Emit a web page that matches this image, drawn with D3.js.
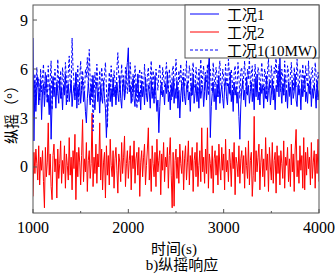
<!DOCTYPE html>
<html>
<head>
<meta charset="utf-8">
<script src="https://cdn.jsdelivr.net/npm/d3@7"></script>
<style>
  body { margin: 0; background: #fff; }
  svg { display: block; }
</style>
</head>
<body>
<svg id="chart" width="335" height="276"></svg>
<script>
// time axis: 1000 s to 4000 s, one sample every 10 s
let tStart = 1000;
let tStep = 10;

// 工况1 (solid blue)
let case1 = [
  7.9, 1.6, 5.2, 3.4, 4.9, 5.5, 3.8, 4.5, 5.3, 2.9, 4.6, 5.1, 3.7, 4.8, 5.6, 4.0, 4.4, 3.2, 5.0, 1.7,
  3.9, 5.4, 4.3, 4.9, 3.6, 5.2, 4.6, 3.9, 5.5, 4.2, 4.8, 3.5, 5.0, 4.4, 5.7, 3.8, 4.6, 5.1, 4.0, 4.7,
  5.3, 3.7, 4.5, 5.0, 4.1, 5.8, 3.6, 4.9, 4.3, 5.2, 3.9, 4.7, 5.4, 4.0, 4.6, 3.4, 2.7, 4.2, 5.1, 4.5,
  3.8, 5.0, 4.3, 5.6, 4.1, 3.5, 4.8, 5.2, 4.0, 4.6, 3.3, 5.0, 4.4, 3.9, 5.3, 4.2, 3.6, 1.8, 3.4, 4.7,
  5.1, 4.0, 4.8, 3.7, 5.5, 4.3, 4.9, 3.8, 5.2, 4.5, 4.0, 5.6, 4.2, 3.6, 4.9, 5.3, 4.1, 4.7, 5.8, 6.4,
  7.3, 4.6, 5.0, 3.9, 4.8, 5.4, 4.2, 3.7, 5.1, 4.5, 5.7, 4.0, 4.6, 3.5, 5.2, 4.3, 4.9, 3.8, 5.5, 4.4,
  4.0, 5.0, 4.6, 3.6, 5.3, 4.2, 4.8, 3.9, 5.6, 4.4, 3.4, 4.1, 2.1, 3.7, 4.9, 5.2, 4.3, 4.7, 3.8, 5.1,
  4.5, 5.8, 4.0, 4.6, 3.5, 5.0, 4.3, 5.4, 3.9, 4.8, 4.2, 5.3, 3.6, 4.7, 3.0, 4.4, 5.1, 4.0, 5.5, 4.3,
  3.8, 4.9, 5.2, 4.1, 4.6, 3.4, 5.0, 4.4, 5.7, 3.9, 4.5, 5.1, 4.0, 4.8, 3.6, 5.3, 4.2, 4.7, 5.0, 3.7,
  4.6, 5.5, 4.1, 4.9, 6.1, 7.0, 1.8, 3.7, 4.5, 5.2, 4.0, 4.8, 3.5, 5.1, 4.3, 5.6, 3.9, 4.6, 5.0, 4.2,
  3.6, 4.9, 5.4, 4.3, 3.8, 5.1, 4.5, 5.8, 4.0, 4.7, 3.4, 5.2, 4.4, 4.9, 3.9, 4.6, 3.1, 1.7, 3.8, 4.8,
  5.3, 4.1, 4.7, 3.7, 5.5, 4.4, 5.0, 3.9, 4.6, 5.2, 4.0, 4.8, 3.5, 5.4, 4.3, 5.7, 4.1, 4.6, 3.8, 5.1,
  4.5, 5.0, 3.6, 4.9, 4.2, 5.6, 4.0, 4.7, 5.2, 3.8, 4.4, 5.4, 4.1, 4.8, 3.5, 5.0, 4.6, 5.9, 4.3, 6.7,
  4.8, 3.9, 5.1, 4.4, 5.5, 4.0, 4.7, 3.6, 5.2, 4.5, 4.9, 3.8, 5.3, 4.2, 4.6, 5.7, 4.1, 3.7, 5.0, 4.4,
  4.8, 3.5, 5.2, 4.3, 4.9, 5.6, 4.0, 4.6, 3.9, 5.1, 4.5, 5.4, 3.7, 4.8, 4.2, 5.0, 4.6, 3.6, 5.3, 4.1,
  4.7
];

// 工况2 (solid red)
let case2 = [
  -1.8, 0.9, -0.4, 1.1, 0.2, -0.8, 1.3, -1.1, 0.6, -0.2, 1.0, -0.9, -2.5, 1.2, -0.6, 0.3, 2.7, -0.5, 0.8, -1.2,
  -2.0, 0.7, 1.4, -0.3, 0.5, -1.9, 1.1, -0.7, 0.2, 1.6, -1.0, 0.4, -0.4, 1.3, -1.3, 0.8, 0.1, -0.8, 1.8, -0.5,
  0.6, -1.4, 1.0, -0.1, 2.0, -2.0, 0.9, -0.6, 1.2, 0.3, -1.1, 0.7, 2.9, -0.9, 0.5, -0.3, 1.5, -1.5, 0.4, 1.0,
  -0.7, 0.2, 3.3, -1.2, 0.6, -0.4, 1.4, -1.0, 0.8, 0.0, 2.7, -0.8, 1.1, -1.4, 0.3, 0.9, -1.9, 1.3, -0.5, 0.7,
  -1.1, 1.7, 0.1, -0.6, 1.0, -1.3, 0.5, 1.2, -0.2, -1.6, 0.8, 0.3, -0.9, 1.5, -0.4, 0.6, 1.9, -1.2, 0.2, 1.0,
  -0.7, 0.4, 1.3, -1.4, 0.7, -0.1, 1.6, -1.0, 0.5, 0.9, -0.5, 1.2, -1.8, 0.3, 1.0, -0.6, 0.6, 1.4, -1.1, 0.1,
  1.1, 2.4, -0.8, 0.5, -1.5, 1.3, 0.2, -0.6, 0.9, -1.2, 1.7, -0.3, 0.4, 1.0, -1.7, 0.8, -0.2, 1.5, -0.9, 0.6,
  0.0, 1.2, -1.3, 0.7, 1.8, -0.5, -2.5, 0.9, -2.4, 0.4, 1.1, -0.7, 0.6, -1.0, 1.4, 0.2, -0.4, 1.0, -1.4, 0.5,
  1.3, -0.8, 0.3, 1.6, -1.1, 0.7, -0.2, 1.2, -1.5, 0.4, 0.9, -0.6, 1.5, -1.2, 0.1, 1.0, -0.9, 2.4, -0.3, 0.6,
  -1.0, 1.1, -0.4, 2.4, -1.3, 0.8, 0.2, -0.7, 1.3, -1.6, 0.5, 1.0, -0.5, 0.7, -1.1, 1.4, 0.0, -0.8, 1.2, -0.2,
  0.8, -1.4, 1.7, -0.3, 0.4, -0.9, 1.1, 0.3, -1.2, 0.9, -0.1, 1.5, -1.7, 0.6, 0.2, -0.6, 1.3, -1.0, 0.5, 1.0,
  -0.4, 0.7, -1.3, 1.2, 0.1, -0.7, 1.6, -1.1, 0.4, 0.9, -1.8, -0.5, 3.1, -0.9, 1.0, -0.3, 0.6, 1.4, -1.4, 0.3,
  1.1, -0.6, 0.5, -1.2, 1.8, -0.2, 0.8, -1.5, 1.2, 0.0, -0.8, 1.5, -1.0, 0.4, 0.9, -1.6, 1.3, -0.4, 0.7, -1.1,
  1.0, 0.2, -0.7, 1.6, -1.3, 0.6, 0.1, 1.2, -0.9, 0.5, -1.2, 1.4, -0.3, 0.8, -1.5, 1.1, 2.3, -0.6, 0.4, -1.0,
  1.3, -0.2, 0.7, -1.3, 1.8, -1.4, 0.9, -0.5, 1.2, -0.1, 0.6, -1.1, 1.5, -0.7, 0.3, 1.0, -1.3, 0.8, -0.4, 1.7,
  -0.9
];

// 工况1(10MW) (dashed blue)
let case1b = [
  5.0, 4.3, 5.7, 3.8, 6.1, 4.9, 5.4, 4.1, 6.0, 4.6, 5.5, 6.3, 4.4, 5.8, 5.1, 3.9, 6.2, 4.7, 5.3, 6.5,
  3.5, 5.6, 4.8, 6.0, 5.2, 4.4, 6.6, 5.0, 4.7, 5.9, 4.2, 6.1, 5.3, 4.6, 6.4, 5.5, 4.0, 5.8, 6.8, 5.1,
  4.5, 7.9, 6.0, 5.2, 4.3, 5.7, 4.9, 6.2, 3.8, 5.4, 6.5, 4.7, 5.9, 5.1, 4.4, 6.0, 5.5, 6.7, 5.0, 7.2,
  5.3, 4.1, 5.6, 2.2, 4.2, 5.8, 4.8, 6.3, 5.1, 4.5, 5.9, 4.0, 6.1, 5.4, 4.6, 5.7, 6.4, 4.9, 2.4, 4.3,
  5.8, 4.7, 6.2, 5.0, 4.4, 5.9, 5.3, 4.1, 6.0, 7.0, 5.5, 4.6, 5.1, 6.3, 4.8, 5.6, 4.2, 6.1, 5.4, 4.5,
  5.9, 4.9, 6.4, 5.2, 4.0, 5.7, 4.6, 6.2, 5.3, 3.6, 4.8, 5.5, 6.0, 4.3, 5.8, 5.1, 4.7, 6.3, 5.0, 4.4,
  5.6, 6.1, 4.8, 5.3, 6.5, 4.5, 5.9, 5.0, 4.2, 6.0, 5.4, 4.7, 5.8, 6.3, 5.1, 4.4, 6.1, 5.5, 4.9, 5.7,
  6.4, 5.0, 4.6, 6.0, 5.3, 4.1, 5.8, 6.2, 4.8, 5.5, 6.6, 5.1, 4.5, 5.9, 5.2, 6.3, 4.7, 5.6, 6.0, 4.9,
  5.4, 6.5, 4.6, 5.1, 6.2, 5.7, 4.3, 5.9, 6.4, 5.0, 4.8, 6.1, 5.5, 4.5, 6.0, 5.3, 6.6, 4.9, 5.6, 6.2,
  4.7, 5.8, 5.2, 6.3, 4.4, 5.7, 6.0, 5.0, 4.6, 6.4, 5.4, 4.9, 6.1, 5.6, 4.3, 5.9, 6.5, 5.1, 4.8, 6.0,
  5.5, 4.6, 6.3, 5.2, 4.9, 6.6, 5.7, 4.4, 6.0, 5.3, 4.1, 5.8, 6.2, 5.0, 4.7, 6.4, 5.5, 4.2, 5.9, 6.1,
  4.8, 5.6, 6.5, 5.1, 4.5, 6.0, 5.4, 6.7, 4.9, 5.7, 6.2, 4.4, 5.3, 6.3, 5.0, 4.6, 6.1, 5.8, 4.3, 5.5,
  6.4, 5.2, 4.7, 6.0, 5.6, 4.1, 5.9, 6.6, 5.0, 4.8, 6.2, 5.4, 4.5, 6.1, 5.7, 6.8, 4.9, 5.3, 6.3, 5.1,
  4.6, 6.0, 5.5, 4.4, 6.5, 5.2, 4.8, 6.2, 5.8, 4.3, 5.6, 6.4, 5.0, 4.7, 6.1, 5.3, 4.9, 6.6, 5.4, 4.5,
  6.0, 5.7, 4.8, 6.3, 5.1, 4.6, 6.2, 5.5, 4.9, 6.5, 5.2, 4.4, 5.9, 6.1, 5.0, 4.7, 6.4, 5.6, 4.3, 5.8,
  5.3
];

let xTicks = [1000, 2000, 3000, 4000];
let xMinorTicks = [1500, 2500, 3500];
let yTicks = [0, 3, 6, 9];
let legendNames = ["工况1", "工况2", "工况1(10MW)"];

let svg = d3.select("#chart");
let plotLeft = 33, plotRight = 319, plotTop = 5, plotBottom = 213;
// serif first so latin glyphs look like the original; CJK falls back to Noto
let serif = "'Liberation Serif', 'DejaVu Serif', serif";
let mixed = "'Liberation Serif', 'Noto Sans CJK SC', serif";
let frameColor = "#555";

let x = d3.scaleLinear().domain([1000, 4000]).range([plotLeft, plotRight]);
let y = d3.scaleLinear().domain([-2.817, 9.92]).range([plotBottom, plotTop]);

svg.append("clipPath").attr("id", "plotClip")
  .append("rect")
  .attr("x", plotLeft).attr("y", plotTop)
  .attr("width", plotRight - plotLeft).attr("height", plotBottom - plotTop);

let line = d3.line()
  .x((d, i) => x(tStart + i * tStep))
  .y(d => y(d));

let series = [
  { data: case1, color: "#0000ff", dash: null },
  { data: case2, color: "#ff0000", dash: null },
  { data: case1b, color: "#0000ff", dash: "3,2" }
];

let plot = svg.append("g").attr("clip-path", "url(#plotClip)");
series.forEach(s => {
  plot.append("path")
    .datum(s.data)
    .attr("d", line)
    .attr("fill", "none")
    .attr("stroke", s.color)
    .attr("stroke-width", 1)
    .attr("stroke-dasharray", s.dash);
});

// frame
svg.append("rect")
  .attr("x", plotLeft).attr("y", plotTop)
  .attr("width", plotRight - plotLeft).attr("height", plotBottom - plotTop)
  .attr("fill", "none")
  .attr("stroke", frameColor)
  .attr("stroke-width", 1);

// x ticks (inward)
svg.selectAll(".xtick").data(xTicks).enter().append("line")
  .attr("x1", d => x(d)).attr("x2", d => x(d))
  .attr("y1", plotBottom).attr("y2", plotBottom - 4)
  .attr("stroke", frameColor);
svg.selectAll(".xminor").data(xMinorTicks).enter().append("line")
  .attr("x1", d => x(d)).attr("x2", d => x(d))
  .attr("y1", plotBottom).attr("y2", plotBottom - 2)
  .attr("stroke", frameColor);
svg.selectAll(".xlabel").data(xTicks).enter().append("text")
  .attr("x", d => x(d))
  .attr("y", 233)
  .attr("text-anchor", "middle")
  .style("font-family", serif)
  .style("font-size", "16px")
  .text(d => d);

// y ticks (inward)
svg.selectAll(".ytick").data(yTicks).enter().append("line")
  .attr("x1", plotLeft).attr("x2", plotLeft + 4)
  .attr("y1", d => y(d)).attr("y2", d => y(d))
  .attr("stroke", frameColor);
svg.selectAll(".ylabel").data(yTicks).enter().append("text")
  .attr("x", 28)
  .attr("y", d => y(d) + 5.5)
  .attr("text-anchor", "end")
  .style("font-family", serif)
  .style("font-size", "16px")
  .text(d => d);

// axis titles
svg.append("text")
  .attr("transform", "translate(17,111) rotate(-90)")
  .attr("text-anchor", "middle")
  .style("font-family", mixed)
  .style("font-size", "15px")
  .text("纵摇（°）");

svg.append("text")
  .attr("x", 174).attr("y", 254)
  .attr("text-anchor", "middle")
  .style("font-family", mixed)
  .style("font-size", "15px")
  .text("时间(s)");

svg.append("text")
  .attr("x", 182).attr("y", 270)
  .attr("text-anchor", "middle")
  .style("font-family", mixed)
  .style("font-size", "15px")
  .text("b)纵摇响应");

// legend
let legend = svg.append("g");
legend.append("rect")
  .attr("x", 185).attr("y", plotTop)
  .attr("width", plotRight - 185).attr("height", 53)
  .attr("fill", "#fff")
  .attr("stroke", frameColor);

let legendY = d3.scalePoint().domain(legendNames).range([14, 50]);
legend.selectAll(".lgline").data(series).enter().append("line")
  .attr("x1", 190).attr("x2", 219)
  .attr("y1", (d, i) => legendY(legendNames[i]))
  .attr("y2", (d, i) => legendY(legendNames[i]))
  .attr("stroke", d => d.color)
  .attr("stroke-width", 1)
  .attr("stroke-dasharray", d => d.dash);
legend.selectAll(".lgtext").data(legendNames).enter().append("text")
  .attr("x", 227)
  .attr("y", d => legendY(d) + 5.5)
  .style("font-family", mixed)
  .style("font-size", "15px")
  .text(d => d);
</script>
</body>
</html>
